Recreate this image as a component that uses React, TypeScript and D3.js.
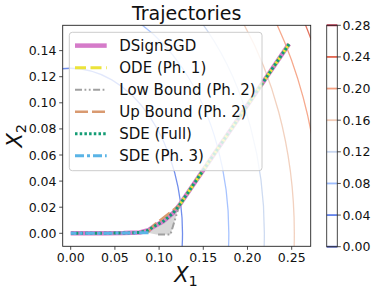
import React from "react";
import * as d3 from "d3";

const xTicks = [0.0, 0.05, 0.1, 0.15, 0.2, 0.25];
const yTicks = [0.0, 0.02, 0.04, 0.06, 0.08, 0.1, 0.12, 0.14];
const cbTicks = [0.0, 0.04, 0.08, 0.12, 0.16, 0.2, 0.24, 0.28];
const levelColors = ["#3b4cc0", "#6282ea", "#9dbdff", "#c9d7f0", "#f1ccb8", "#f5a081", "#e0654f", "#b40426"];
// contour levels of f(x) = 2.5 * |x|^2
const contourLevels = [0.04, 0.08, 0.12, 0.16, 0.2, 0.24, 0.28];
const lossScale = 2.5;

// trajectories
const dsignX = [0.247, 0.1229, 0.116, 0.1048, 0.093, 0.0878, 0.078, 0.06, 0.04, 0.02, 0.0];
const dsignY = [0.145, 0.0215, 0.0156, 0.0092, 0.0048, 0.0023, 0.0006, 0.0002, 0.0001, 0.0, 0.0];
const odeX = [0.247, 0.1229];
const odeY = [0.145, 0.0215];
const lowX = [0.1229, 0.1135, 0.113, 0.097];
const lowY = [0.0215, 0.0005, -0.001, -0.001];
const upX = [0.087, 0.095, 0.1229];
const upY = [0.0005, 0.0068, 0.0215];
const sdeFullX = dsignX;
const sdeFullY = dsignY;
const sde3X = [0.088, 0.06, 0.04, 0.02, 0.0];
const sde3Y = [0.0005, 0.0002, 0.0001, 0.0, 0.0];

const legendLabels = ["DSignSGD", "ODE (Ph. 1)", "Low Bound (Ph. 2)", "Up Bound (Ph. 2)", "SDE (Full)", "SDE (Ph. 3)"];

const L = 62.7, R = 310.7, T = 25.3, B = 246.3;
const x = d3.scaleLinear().domain([-0.00905, 0.2715]).range([L, R]);
const y = d3.scaleLinear().domain([-0.00996, 0.1594]).range([B, T]);
const cb = d3.scaleLinear().domain([0, 0.28]).range([246.7, 25.3]);

const font = "DejaVu Sans, sans-serif";

const styles = [
  { color: "#d57bc9", width: 4.5, dash: "none" },
  { color: "#ece33a", width: 3, dash: "11,4.5" },
  { color: "#a0a0a0", width: 2, dash: "7,2.5,1.8,2.5,1.8,2.5" },
  { color: "#d99a70", width: 2.5, dash: "13,4" },
  { color: "#139c74", width: 3, dash: "2.5,2.2" },
  { color: "#5ab4e6", width: 3, dash: "9,3,3,3" },
];

function pathOf(xs: number[], ys: number[]) {
  const line = d3.line<number>().x((_, i) => x(xs[i])).y((_, i) => y(ys[i])).curve(d3.curveLinear);
  return line(xs) || "";
}

export default function App() {
  const series = [
    [dsignX, dsignY],
    [odeX, odeY],
    [lowX, lowY],
    [upX, upY],
    [sdeFullX, sdeFullY],
    [sde3X, sde3Y],
  ];
  const fillPts: [number, number][] = [];
  upX.forEach((v, i) => fillPts.push([x(v), y(upY[i])]));
  lowX.forEach((v, i) => fillPts.push([x(v), y(lowY[i])]));
  const fillPath = "M" + fillPts.map((p) => p.join(",")).join("L") + "Z";

  const legTop = 45.6, legStep = 22.05;
  return (
    <svg width={374} height={293} style={{ position: "absolute", left: 0, top: 0, background: "#fff" }} fontFamily={font}>
      <defs>
        <clipPath id="plotclip">
          <rect x={L} y={T} width={R - L} height={B - T} />
        </clipPath>
      </defs>
      <rect x={0} y={0} width={374} height={293} fill="#fff" />
      <g clipPath="url(#plotclip)">
        {contourLevels.map((lv, i) => {
          const r = Math.sqrt(lv / lossScale);
          return (
            <ellipse key={lv} cx={x(0)} cy={y(0)} rx={x(r) - x(0)} ry={y(0) - y(r)}
              fill="none" stroke={levelColors[i + 1]} strokeWidth={1.3} opacity={0.9} />
          );
        })}
        <path d={fillPath} fill="#b8b8b8" opacity={0.55} />
        {series.map((s, i) => (
          <path key={i} d={pathOf(s[0], s[1])} fill="none" stroke={styles[i].color}
            strokeWidth={styles[i].width} strokeDasharray={styles[i].dash} strokeLinejoin="round" />
        ))}
      </g>
      {/* legend */}
      <rect x={69.3} y={32.3} width={192.7} height={138.4} rx={3} fill="#fff" fillOpacity={0.8} stroke="#cccccc" strokeWidth={1} />
      {legendLabels.map((lab, i) => {
        const cy = legTop + i * legStep;
        return (
          <g key={lab}>
            <line x1={75} x2={106.7} y1={cy} y2={cy} stroke={styles[i].color} strokeWidth={styles[i].width}
              strokeDasharray={styles[i].dash} />
            <text x={119.3} y={cy + 5.3} fontSize={15} fill="#111">{lab}</text>
          </g>
        );
      })}
      {/* frame */}
      <rect x={L} y={T} width={R - L} height={B - T} fill="none" stroke="#222" strokeWidth={0.9} />
      {/* x ticks */}
      {xTicks.map((t) => (
        <g key={t}>
          <line x1={x(t)} x2={x(t)} y1={B} y2={B + 3.5} stroke="#222" strokeWidth={0.8} />
          <text x={x(t)} y={262} fontSize={12.5} textAnchor="middle" fill="#111">{t.toFixed(2)}</text>
        </g>
      ))}
      {yTicks.map((t) => (
        <g key={t}>
          <line x1={L - 3.5} x2={L} y1={y(t)} y2={y(t)} stroke="#222" strokeWidth={0.8} />
          <text x={56.5} y={y(t) + 4.5} fontSize={12.5} textAnchor="end" fill="#111">{t.toFixed(2)}</text>
        </g>
      ))}
      {/* axis labels */}
      <text x={186} y={282} fontSize={21} fontStyle="italic" textAnchor="middle" fill="#111">
        X<tspan fontSize={14.5} fontStyle="normal" dy={4}>1</tspan>
      </text>
      <text transform={`translate(22,${(T + B) / 2}) rotate(-90)`} fontSize={21} fontStyle="italic" textAnchor="middle" fill="#111">
        X<tspan fontSize={14.5} fontStyle="normal" dy={4}>2</tspan>
      </text>
      <text x={(L + R) / 2} y={20.3} fontSize={19} textAnchor="middle" fill="#111">Trajectories</text>
      {/* colorbar */}
      <rect x={326.7} y={25.3} width={10.6} height={221.4} fill="#fff" />
      {cbTicks.map((t, i) => (
        <line key={"cl" + t} x1={326.7} x2={337.3} y1={cb(t)} y2={cb(t)} stroke={levelColors[i]} strokeWidth={1.8} />
      ))}
      <rect x={326.7} y={25.3} width={10.6} height={221.4} fill="none" stroke="#333" strokeWidth={0.9} />
      {cbTicks.map((t) => (
        <g key={"ct" + t}>
          <line x1={337.3} x2={340.8} y1={cb(t)} y2={cb(t)} stroke="#222" strokeWidth={0.8} />
          <text x={342.5} y={cb(t) + 4.5} fontSize={12.5} fill="#111">{t.toFixed(2)}</text>
        </g>
      ))}
    </svg>
  );
}
